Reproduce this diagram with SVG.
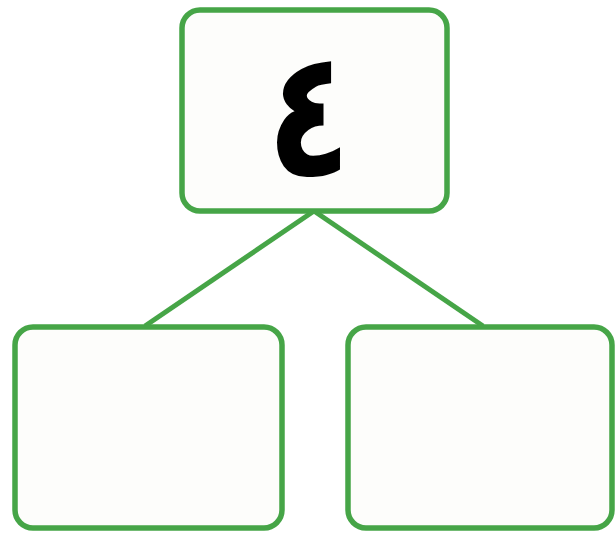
<svg xmlns="http://www.w3.org/2000/svg" width="615" height="537" viewBox="0 0 615 537">
<style>
.box{fill:#fdfdfb;stroke:#46a547;stroke-width:5.5}
.conn{stroke:#46a547;stroke-width:5;fill:none}
.lbl{font-family:"DejaVu Sans",sans-serif;font-weight:bold;font-size:177px;fill:#000}
</style>
<rect width="615" height="537" fill="#ffffff"/>
<g id="connectors">
<line class="conn" x1="314" y1="211" x2="145" y2="326"/>
<line class="conn" x1="314" y1="211" x2="483" y2="326"/>
</g>
<g id="root">
<rect class="box" x="182" y="10" width="265" height="201" rx="18"/>
<text class="lbl" transform="translate(309 175) scale(0.78 1)" text-anchor="middle">٤</text>
</g>
<g id="left">
<rect class="box" x="15" y="327" width="267" height="201" rx="18"/>
</g>
<g id="right">
<rect class="box" x="348" y="327" width="264" height="201" rx="18"/>
</g>
</svg>
